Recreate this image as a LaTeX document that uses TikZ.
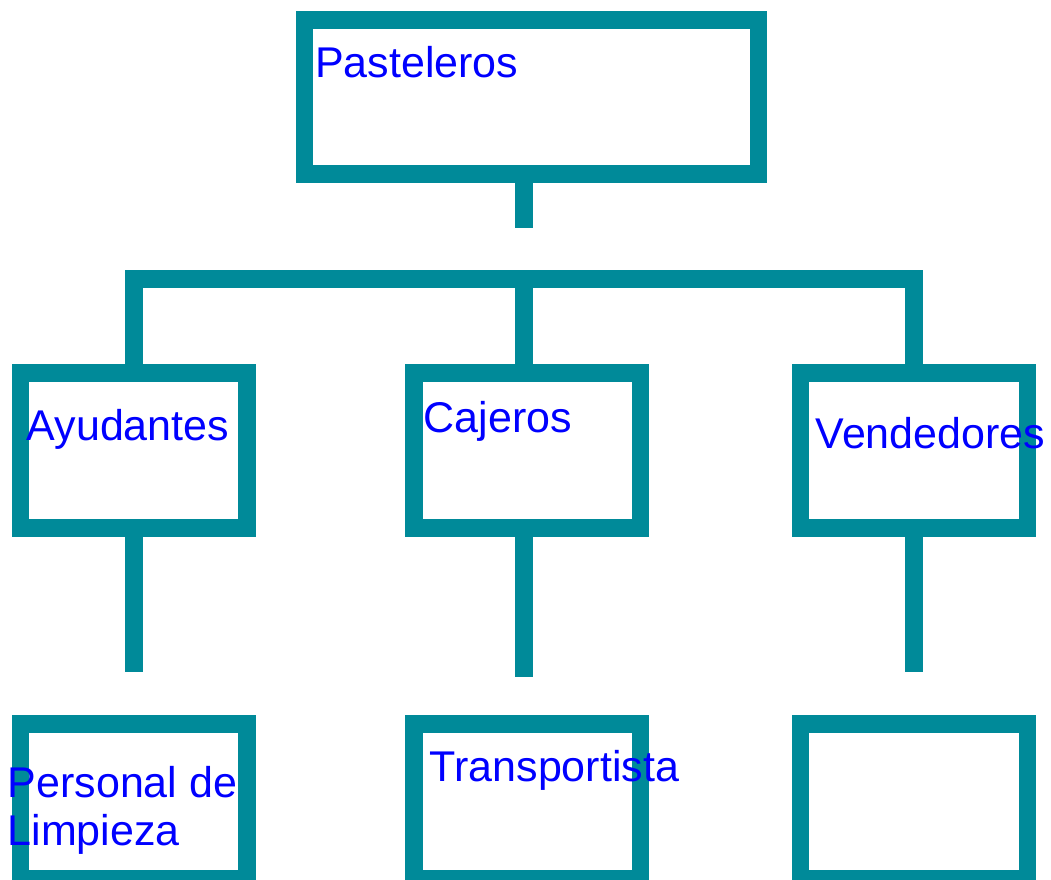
\documentclass[tikz,border=0pt]{standalone}
\usepackage{fontspec}
\setmainfont{Liberation Sans}
\definecolor{teal}{RGB}{0,138,153}
\tikzset{
	caja/.style={draw=teal, line width=17.5pt, line join=miter, inner sep=0pt, minimum height=155pt},
	rotulo/.style={anchor=base west, inner sep=0pt, text=blue, font=\fontsize{43}{48.4}\selectfont, align=left},
	linea/.style={draw=teal, line width=17.5pt, line join=miter}
}
\begin{document}
\begin{tikzpicture}[x=1pt,y=-1pt]
			\useasboundingbox (0,0) rectangle (1051,879);
			\clip (0,0) rectangle (1051,879);
			\coordinate (M) at (524,228);
			\coordinate (H) at (524,279);
			\node[caja, minimum width=454pt, minimum height=154pt] (P) at (531.5,97) {};
			\node[caja, minimum width=226.5pt] (A) at (133.75,450.5) {};
			\node[caja, minimum width=226.5pt] (C) at (527.25,450.5) {};
			\node[caja, minimum width=227pt] (V) at (914,450.5) {};
			\node[caja, minimum width=226.5pt] (L) at (133.75,801.5) {};
			\node[caja, minimum width=226.5pt] (T) at (527.25,801.5) {};
			\node[caja, minimum width=227pt] (X) at (914,801.5) {};
			\draw[linea] (M |- P.south) to (M);
			\draw[linea] (A.north) to (A.north |- H) to (V.north |- H) to (V.north);
			\draw[linea] (H |- C.north) to (H);
			\draw[linea] (A.south) to ++(0,135);
			\draw[linea] (H |- C.south) to ++(0,140);
			\draw[linea] (V.south) to ++(0,135);
			\node[rotulo] (p) at (315,77.3) {Pasteleros};
			\node[rotulo] (a) at (26.5,440.7) {Ayudantes};
			\node[rotulo] (c) at (423.5,432.7) {Cajeros};
			\node[rotulo] (v) at (815.5,448.3) {Vendedores};
			\node[rotulo] (t) at (429.5,781.7) {Transportista};
			\node[rotulo] (l) at (7.5,845.7) {Personal de\\Limpieza};
		\end{tikzpicture}
\end{document}
